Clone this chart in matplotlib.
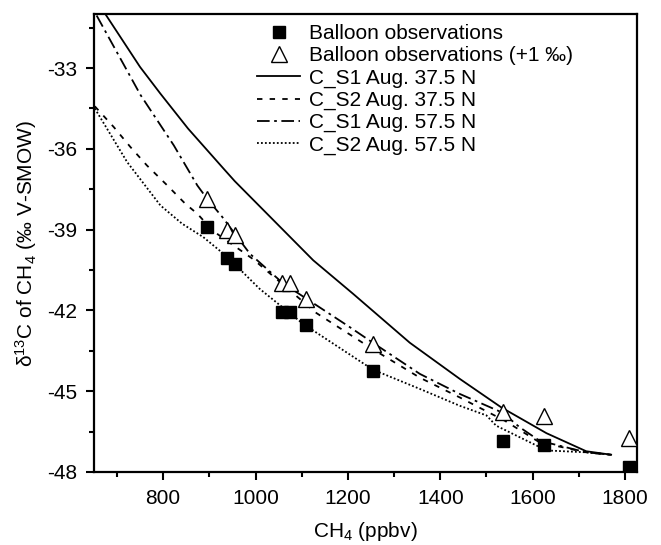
import numpy as np
import matplotlib
matplotlib.use("Agg")
import matplotlib.pyplot as plt

plt.rcParams['font.family'] = ['Liberation Sans', 'DejaVu Sans']
plt.rcParams['mathtext.default'] = 'regular'
plt.rcParams['axes.unicode_minus'] = False

# balloon observations
obs_ch4 = [894, 939, 955, 1058, 1074, 1110, 1255, 1535, 1624, 1809]
obs_d13c = [-38.9, -40.05, -40.27, -42.07, -42.07, -42.56, -44.26, -46.84, -46.99, -47.8]
obs_d13c_plus1 = [-37.85, -39.03, -39.2, -41.0, -41.0, -41.57, -43.24, -45.78, -45.94, -46.74]

# model curves
s1_375_x = [675, 750, 794, 854, 931, 955, 1125, 1211, 1334, 1442, 1532, 1630, 1716, 1770]
s1_375_y = [-31.0, -32.96, -33.95, -35.25, -36.74, -37.2, -40.14, -41.38, -43.2, -44.54, -45.6, -46.56, -47.23, -47.36]

s2_375_x = [652, 693, 729, 765, 809, 848, 874, 908, 995, 1132, 1250, 1356, 1442, 1540, 1615, 1716, 1770]
s2_375_y = [-34.42, -35.19, -35.93, -36.62, -37.36, -38.04, -38.41, -39.05, -40.1, -42.1, -43.4, -44.5, -45.23, -46.1, -46.9, -47.27, -47.36]

s1_575_x = [656, 751, 823, 874, 895, 928, 988, 1060, 1204, 1254, 1356, 1442, 1535, 1572, 1615, 1716, 1770]
s1_575_y = [-31.05, -34.0, -35.87, -37.36, -37.85, -38.53, -39.9, -41.0, -42.62, -43.2, -44.36, -45.1, -45.8, -46.34, -46.84, -47.27, -47.36]

s2_575_x = [652, 722, 794, 841, 887, 938, 1009, 1103, 1254, 1355, 1442, 1500, 1521, 1630, 1716, 1770]
s2_575_y = [-34.5, -36.49, -38.1, -38.78, -39.28, -40.0, -41.2, -42.5, -44.2, -44.91, -45.54, -45.9, -46.28, -47.2, -47.27, -47.36]

fig = plt.figure(figsize=(6.61, 5.45), dpi=100)
ax = fig.add_axes([0.142, 0.134, 0.821, 0.840])

ax.plot(obs_ch4, obs_d13c, 'ks', ms=8, ls='none', label='Balloon observations', zorder=5)
ax.plot(obs_ch4, obs_d13c_plus1, '^', ms=11, mfc='white', mec='black', mew=1.0, ls='none',
        label='Balloon observations (+1 \u2030)', zorder=5)
ax.plot(s1_375_x, s1_375_y, color='black', lw=1.3, ls='-', label='C_S1 Aug. 37.5 N')
ax.plot(s2_375_x, s2_375_y, color='black', lw=1.3, ls=(0, (3, 4)), label='C_S2 Aug. 37.5 N')
ax.plot(s1_575_x, s1_575_y, color='black', lw=1.3, ls=(0, (7, 2.5, 1.5, 2.5)), label='C_S1 Aug. 57.5 N')
ax.plot(s2_575_x, s2_575_y, color='black', lw=1.3, ls=(0, (1, 1.2)), label='C_S2 Aug. 57.5 N')

ax.set_xlim(650, 1825)
ax.set_ylim(-48, -31)
ax.set_xticks([800, 1000, 1200, 1400, 1600, 1800])
ax.set_xticks(np.arange(700, 1801, 200), minor=True)
ax.set_yticks([-48, -45, -42, -39, -36, -33])
ax.set_yticks(np.arange(-46.5, -30.9, 3), minor=True)
ax.tick_params(which='major', direction='out', length=6, width=1.5, labelsize=15, pad=6)
ax.tick_params(which='minor', direction='out', length=3.5, width=1.5)
ax.tick_params(top=False, right=False)
for s in ax.spines.values():
    s.set_linewidth(1.6)

ax.set_xlabel('CH$_4$ (ppbv)', fontsize=15, labelpad=9)
ax.set_ylabel('$\\delta^{13}$C of CH$_4$ (\u2030 V-SMOW)', fontsize=15, labelpad=6)

ax.legend(loc='upper left', bbox_to_anchor=(0.30, 0.978), frameon=False, fontsize=15,
          handlelength=2.1, handletextpad=0.4, labelspacing=0.15, borderpad=0, borderaxespad=0)

fig.savefig('out.png', dpi=100)
